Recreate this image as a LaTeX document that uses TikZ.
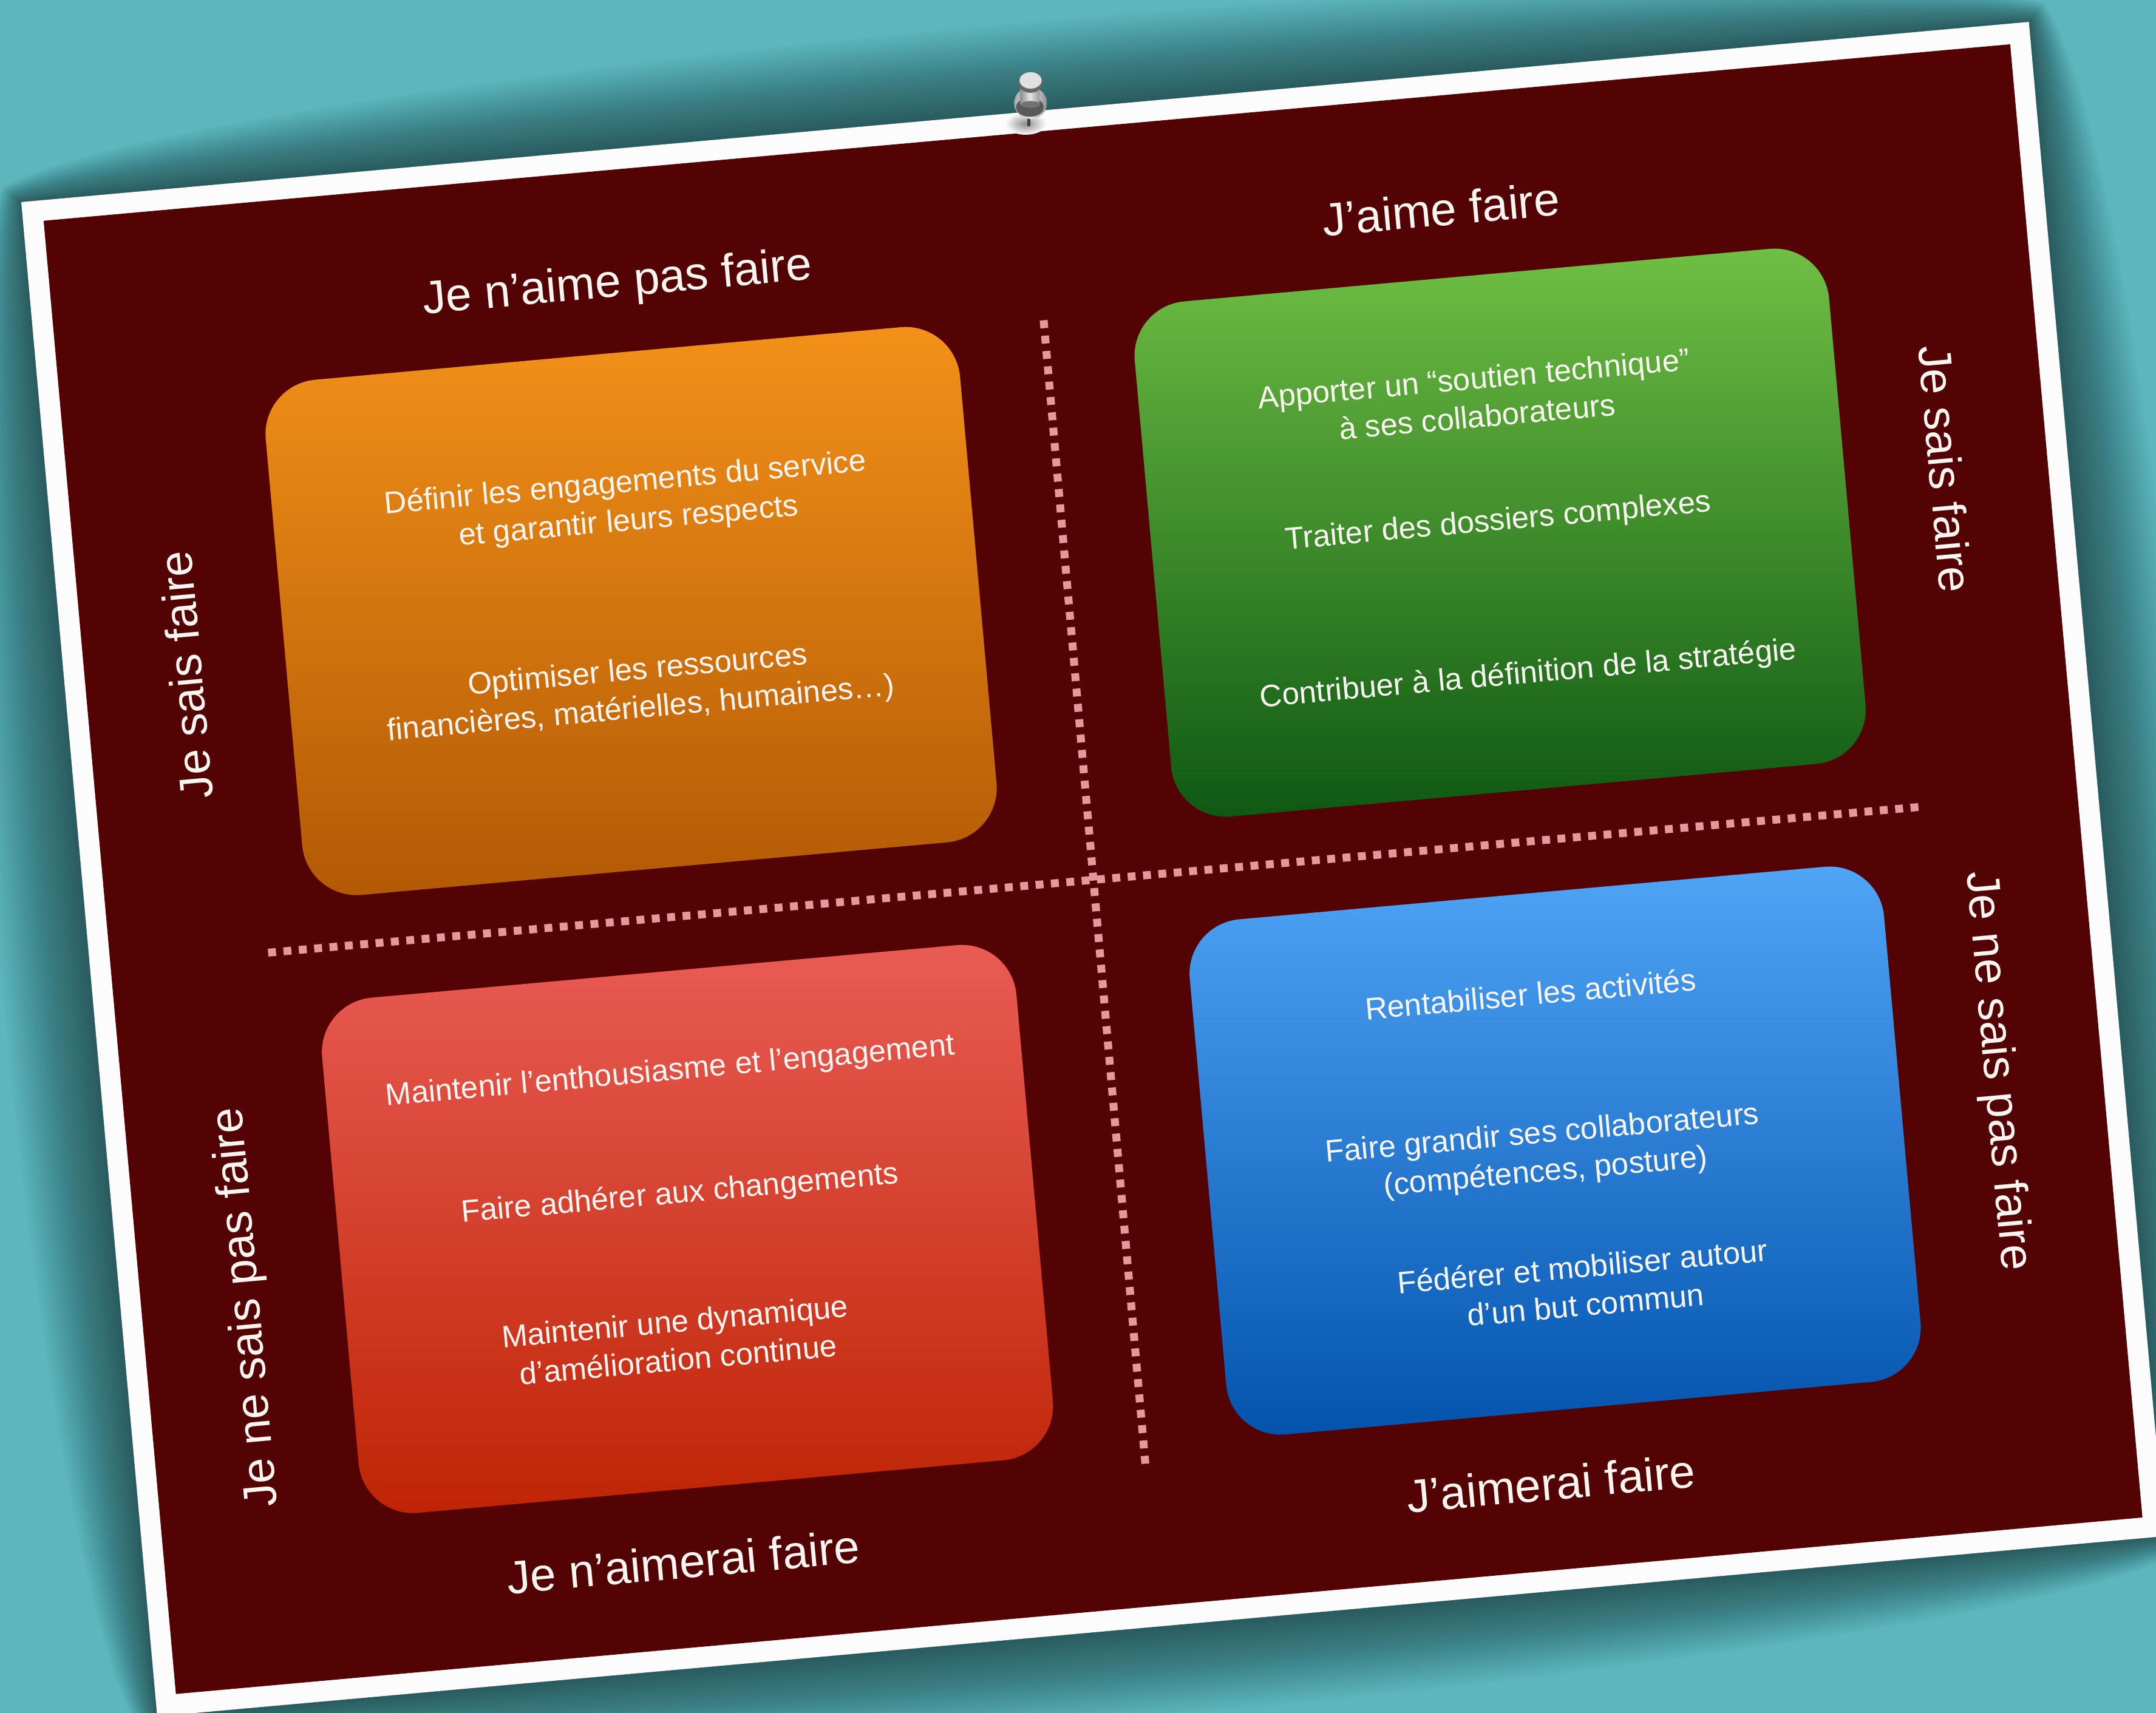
\documentclass[tikz,border=0pt]{standalone}
\usepackage{fontspec}
\setmainfont{Liberation Sans}
\definecolor{bgteal}{HTML}{5CB6BC}
\definecolor{board}{HTML}{540304}
\definecolor{paper}{HTML}{FCFCFC}
\definecolor{dotline}{HTML}{E8959C}
\definecolor{labelc}{HTML}{F8F4F0}
\definecolor{orangetop}{HTML}{F39119}
\definecolor{orangebot}{HTML}{B25905}
\definecolor{greentop}{HTML}{70C044}
\definecolor{greenbot}{HTML}{0E5713}
\definecolor{redtop}{HTML}{E95C55}
\definecolor{redbot}{HTML}{BE2404}
\definecolor{bluetop}{HTML}{50A5F7}
\definecolor{bluebot}{HTML}{0353AD}
\tikzset{
  x=0.022647cm, y=-0.022647cm,
  tilt/.style={rotate=5.13},
  cardbox/.style={rectangle, draw=none, inner sep=0pt, tilt, minimum width=11.48cm, minimum height=8.52cm, rounded corners=0.9cm},
  biglabel/.style={text=labelc, font=\fontsize{21.8}{26}\selectfont, inner sep=0pt},
  smalltext/.style={text=labelc, font=\fontsize{14.5}{18}\selectfont, align=center, inner sep=0pt, tilt},
  dotrule/.style={draw=dotline, line width=3.7pt, dash pattern=on 3.7pt off 3.52pt},
}
\begin{document}
\begin{tikzpicture}
\useasboundingbox (0,0) rectangle (1568,1246);
\clip (0,0) rectangle (1568,1246);
\fill[bgteal] (0,0) rectangle (1568,1246);
\begin{scope}[shift={(15.45,147)},rotate=5.13]
  \foreach \i in {1,...,36}{
    \pgfmathsetmacro{\d}{62*(\i/36)^1.1}
    \pgfmathsetmacro{\a}{-0.2*\d}
    \pgfmathsetmacro{\b}{1.33*\d}
    \fill[black,opacity=0.015]
      ({\a},{\a}) .. controls (146,{-\b}) and (1320,{-\b}) .. ({1466-\a},{\a})
      .. controls ({1466+\b},110) and ({1466+\b},996) .. ({1466-\a},{1106-\a})
      .. controls (1320,{1106+\b}) and (146,{1106+\b}) .. ({\a},{1106-\a})
      .. controls ({-\b},996) and ({-\b},110) .. cycle;
  }
  \fill[paper] (0,0) -- (1466,0) -- (1466,1106) -- (0,1106) -- cycle;
  \fill[board] (15,15) -- (1451,15) -- (1451,1091) -- (15,1091) -- cycle;
\end{scope}
% pin
\shade[inner color=black!45, outer color=paper] (746,90) ellipse (15 and 8);
\fill[black!75] (747,84) rectangle (749.5,92);
\shade[left color=black!35, right color=black!45, middle color=black!8] (749.5,75) ellipse (12 and 11.5);
\fill[black!65] (749,78) ellipse (10 and 7);
\shade[left color=black!45, right color=black!40, middle color=black!10] (742,62) rectangle (756,76);
\fill[black!55] (749.5,76) ellipse (7 and 2.5);
\fill[black!60] (749.5,60) ellipse (9 and 7.5);
\fill[black!12] (749.5,58.5) ellipse (8 and 6);
% rules
\coordinate (hstart) at (195,693);
\coordinate (hend) at (1396,587);
\coordinate (vstart) at (759,233);
\coordinate (vend) at (833,1065);
\draw[dotrule] (hstart) -- (hend);
\draw[dotrule] (vstart) -- (vend);
% cards
\node[cardbox, top color=orangetop, bottom color=orangebot] (orangebox) at (459,444.5) {};
\node[cardbox, top color=greentop, bottom color=greenbot] (greenbox) at (1091,387.5) {};
\node[cardbox, top color=redtop, bottom color=redbot] (redbox) at (500,894) {};
\node[cardbox, top color=bluetop, bottom color=bluebot] (bluebox) at (1131,837) {};
% axis labels
\node[biglabel, rotate=5.13] (lnaime) at (449,207) {Je n’aime pas faire};
\node[biglabel, rotate=5.13] (laime) at (1048,152) {J’aime faire};
\node[biglabel, rotate=5.13] (lnaimerai) at (497,1136) {Je n’aimerai faire};
\node[biglabel, rotate=5.13] (laimerai) at (1128,1079) {J’aimerai faire};
\node[biglabel, rotate=95.13] (lsaisl) at (135,491) {Je sais faire};
\node[biglabel, rotate=95.13] (lnesaisl) at (180,951) {Je ne sais pas faire};
\node[biglabel, rotate=-84.87] (lsaisr) at (1415,341) {Je sais faire};
\node[biglabel, rotate=-84.87] (lnesaisr) at (1452,779) {Je ne sais pas faire};
% orange
\node[smalltext] (o1) at (456,366) {Définir les engagements du service\\et garantir leurs respects};
\node[smalltext] (o2) at (465,502.5) {Optimiser les ressources\\financières, matérielles, humaines…)};
% green
\node[smalltext] (g1) at (1073,289) {Apporter un “soutien technique”\\à ses collaborateurs};
\node[smalltext] (g2) at (1089.5,380) {Traiter des dossiers complexes};
\node[smalltext] (g3) at (1111.5,491) {Contribuer à la définition de la stratégie};
% red
\node[smalltext] (r1) at (487.5,780) {Maintenir l’enthousiasme et l’engagement};
\node[smalltext] (r2) at (494.5,869) {Faire adhérer aux changements};
\node[smalltext] (r3) at (492,975) {Maintenir une dynamique\\d’amélioration continue};
% blue
\node[smalltext] (b1) at (1113,723) {Rentabiliser les activités};
\node[smalltext] (b2) at (1123,839.5) {Faire grandir ses collaborateurs\\(compétences, posture)};
\node[smalltext] (b3) at (1152,935) {Fédérer et mobiliser autour\\d’un but commun};
\end{tikzpicture}
\end{document}
